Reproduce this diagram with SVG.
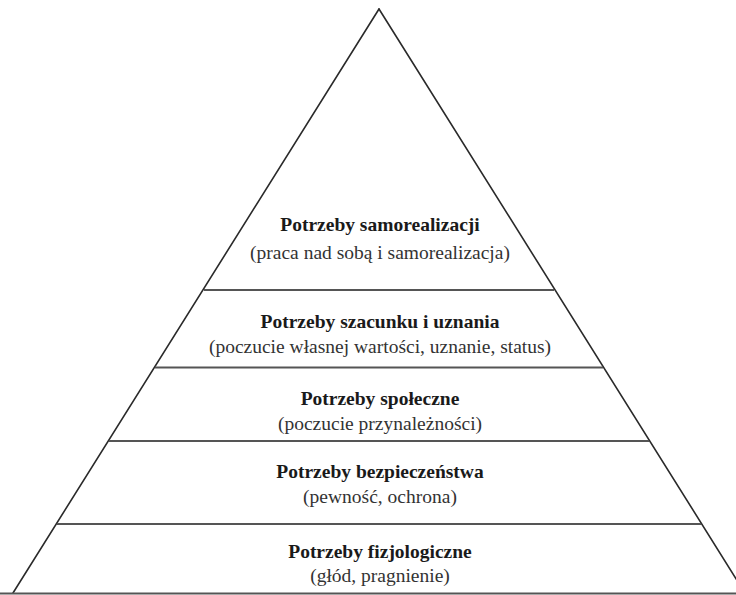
<svg xmlns="http://www.w3.org/2000/svg" width="736" height="595" viewBox="0 0 736 595">
<style>
.side{stroke:#2a2a2a;stroke-width:1.6;fill:none;stroke-linecap:round}
.div{stroke:#555;stroke-width:2.2;fill:none}
.t{font-family:'Liberation Serif','Times New Roman','DejaVu Serif',serif;font-size:19.5px;text-anchor:middle}
.b{font-weight:bold;fill:#1a1a1a}
.r{fill:#333}
</style>
<rect width="736" height="595" fill="#fff"/>
<g id="connectors">
<line class="side" x1="379" y1="9" x2="13" y2="593"/>
<line class="side" x1="379" y1="9" x2="745" y2="593"/>
<line class="div" x1="0" y1="593.5" x2="736" y2="593.5"/>
</g>
<g id="level5">
<line class="div" x1="204" y1="290" x2="554" y2="290"/>
<text class="t b" x="380" y="231" font-family="Liberation Serif, serif">Potrzeby samorealizacji</text>
<text class="t r" x="380" y="259" font-family="Liberation Serif, serif">(praca nad sobą i samorealizacja)</text>
</g>
<g id="level4">
<line class="div" x1="155" y1="367.5" x2="603" y2="367.5"/>
<text class="t b" x="380" y="328" font-family="Liberation Serif, serif">Potrzeby szacunku i uznania</text>
<text class="t r" x="380" y="353" font-family="Liberation Serif, serif">(poczucie własnej wartości, uznanie, status)</text>
</g>
<g id="level3">
<line class="div" x1="109" y1="441" x2="649" y2="441"/>
<text class="t b" x="380" y="405" font-family="Liberation Serif, serif">Potrzeby społeczne</text>
<text class="t r" x="380" y="430" font-family="Liberation Serif, serif">(poczucie przynależności)</text>
</g>
<g id="level2">
<line class="div" x1="57" y1="524" x2="701" y2="524"/>
<text class="t b" x="380" y="478" font-family="Liberation Serif, serif">Potrzeby bezpieczeństwa</text>
<text class="t r" x="380" y="503" font-family="Liberation Serif, serif">(pewność, ochrona)</text>
</g>
<g id="level1">
<text class="t b" x="380" y="558" font-family="Liberation Serif, serif">Potrzeby fizjologiczne</text>
<text class="t r" x="380" y="582" font-family="Liberation Serif, serif">(głód, pragnienie)</text>
</g>
</svg>
